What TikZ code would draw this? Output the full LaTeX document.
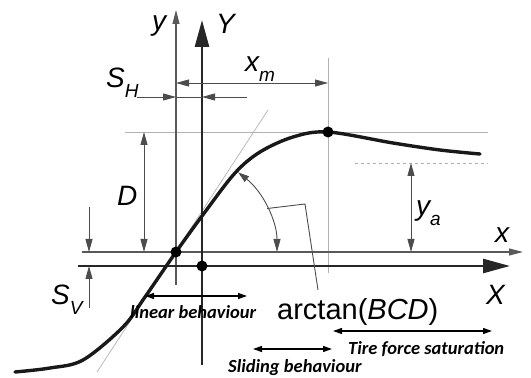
\documentclass[tikz,border=0pt]{standalone}
\usepackage{fontspec}
\setmainfont{Liberation Sans}
\newfontfamily\behfont{Carlito}
\usetikzlibrary{arrows.meta}
\newcommand\lsub[1]{\raisebox{-10pt}{\fontsize{19}{19}\selectfont #1}}

\begin{document}
\begin{tikzpicture}[x=1pt, y=1pt,
	dimtip/.tip={Triangle[length=13pt,width=7pt]},
	behtip/.tip={Triangle[length=9pt,width=6pt]},
	guide/.style={gray!60, line width=0.9pt},
	thinline/.style={black!70, line width=0.9pt},
	axthin/.style={black!65, line width=1.2pt, -{Triangle[length=14pt,width=7pt]}},
	axbold/.style={black!85, line width=2.6pt, -{Triangle[length=27pt,width=14pt]}},
	behav/.style={black, line width=1.2pt, behtip-behtip},
	curve/.style={black!90, line width=3.4pt, line cap=round},
	lbl/.style={font=\fontsize{28}{28}\selectfont\itshape, inner sep=0pt, anchor=base west},
	behlbl/.style={font=\behfont\fontsize{18.5}{18.5}\selectfont\bfseries\itshape, inner sep=0pt, anchor=base west}]
	\useasboundingbox (0,0) rectangle (531,378);
	
	% 1. 关键点
	\coordinate (O) at (176,126);
	\coordinate (Oxy) at (202,112);
	\coordinate (P) at (328,246);
	
	% 2. 辅助线
	\draw[guide] (125,246) -- (488,246);
	\draw[guide, dashed] (355,215) -- (488,215);
	\draw[guide] (328,105) -- (328,320);
	\draw[guide, line width=0.7pt] (97,6) -- (268,268);
	
	% 3. 坐标轴
	\draw[axthin] (82,126) -- (523,126);
	\draw[axthin] (176,93) -- (176,368);
	\draw[axbold] (78,112) -- (510,112);
	\draw[axbold] (202,13) -- (202,358);
	\node[lbl] (ylbl) at (152,347) {y};
	\node[lbl] (Ylbl) at (216,344) {Y};
	\node[lbl] (xlbl) at (495,135) {x};
	\node[lbl] (Xlbl) at (486,73) {X};
	
	% 4. 尺寸标注
	\draw[thinline, -dimtip] (137,281) -- (176,281);
	\draw[thinline] (176,281) -- (202,281);
	\draw[thinline, -dimtip] (247,281) -- (202,281);
	\node[lbl] (SHlbl) at (106,290) {S\lsub{H}};
	\draw[thinline, dimtip-dimtip] (176,295) -- (328,295);
	\node[lbl] (xmlbl) at (245,306) {x\lsub{m}};
	\draw[thinline, dimtip-dimtip] (144,246) -- (144,126);
	\node[lbl] (Dlbl) at (117,172) {D};
	\draw[thinline, -dimtip] (89,171) -- (89,126);
	\draw[thinline, -dimtip] (89,70) -- (89,112);
	\node[lbl] (SVlbl) at (51,73) {S\lsub{V}};
	\draw[thinline, dimtip-dimtip] (411,215) -- (411,126);
	\node[lbl] (yalbl) at (416,162) {y\lsub{a}};
	
	% 5. 特性曲线
	\draw[curve] plot[smooth, tension=0.55] coordinates {(15,6) (50,10) (83,18) (123,51) (145,81) (176,126) (205,166) (235,205) (260,226) (293,241) (328,246) (393,235) (440,228) (480,224)};
	\fill (O) circle[radius=5.5];
	\fill (Oxy) circle[radius=5.5];
	\fill (P) circle[radius=5.5];
	
	% 6. 斜率角 arctan(BCD)
	\draw[thinline, {Triangle[length=11pt,width=7pt]}-dimtip] ([shift={(52:101)}]O) arc[start angle=52, end angle=0, radius=101];
	\draw[thinline] ([shift={(25.5:101)}]O) -- (305,174) -- (318,88);
	\node[lbl, font=\fontsize{29}{29}\selectfont] (atlbl) at (277,58) {arctan(\textit{BCD})};
	
	% 7. 区间说明
	\draw[behav] (145,82) -- (247,82);
	\node[behlbl] (linlbl) at (130,59) {linear behaviour};
	\draw[behav] (253,29) -- (332,29);
	\node[behlbl] (slilbl) at (228,5) {Sliding behaviour};
	\draw[behav] (333,47) -- (492,47);
	\node[behlbl] (satlbl) at (348,23) {Tire force saturation};
\end{tikzpicture}
\end{document}
